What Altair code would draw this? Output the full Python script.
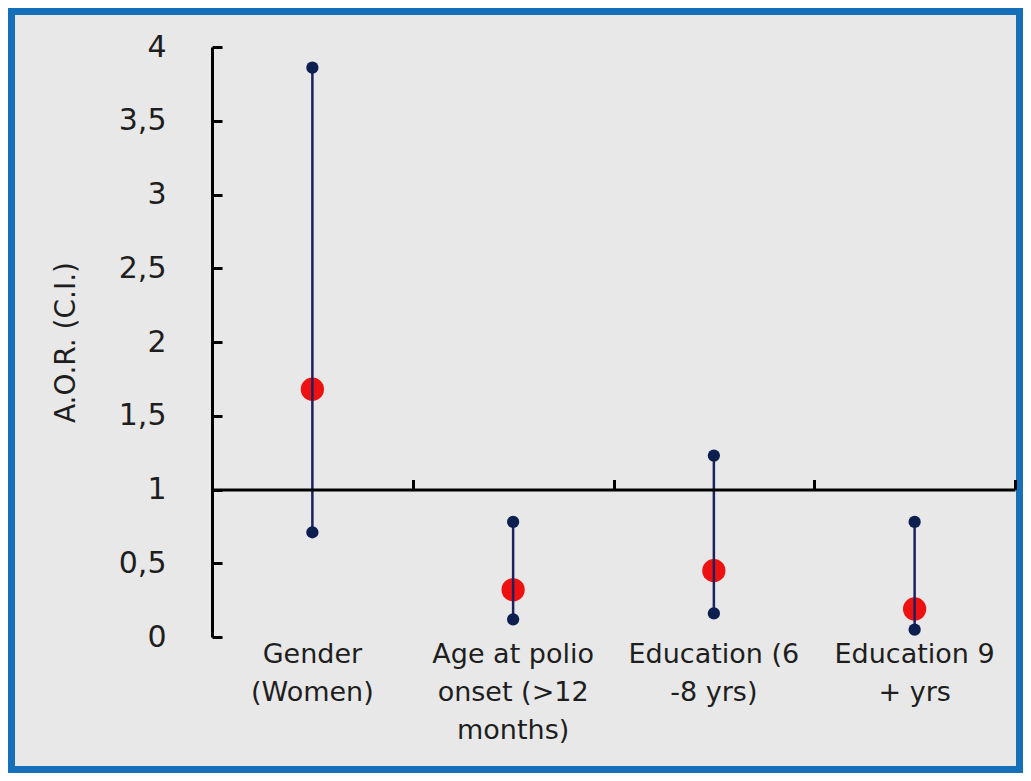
import altair as alt
import pandas as pd

categories = ["Gender\n(Women)", "Age at polio\nonset (>12\nmonths)", "Education (6\n-8 yrs)", "Education 9\n+ yrs"]
aor = [1.68, 0.32, 0.45, 0.19]
ci_low = [0.71, 0.12, 0.16, 0.05]
ci_high = [3.86, 0.78, 1.23, 0.78]
y_ticks = [0, 0.5, 1, 1.5, 2, 2.5, 3, 3.5, 4]

df = pd.DataFrame({"cat": categories, "aor": aor, "lo": ci_low, "hi": ci_high})

W, H = 803, 590
FONT = "DejaVu Sans"
TXT = "#1e1e1e"

xscale = alt.Scale(domain=categories, paddingInner=0, paddingOuter=0)
yscale = alt.Scale(domain=[0, 4], nice=False)

frame = alt.Chart(pd.DataFrame({"a": [0]})).mark_rect(
    fill="#e8e8e8", stroke="#1670b9", strokeWidth=7
).encode(
    x=alt.value(-200.5), x2=alt.value(807.5), y=alt.value(-35.5), y2=alt.value(722.5)
)

base = alt.Chart(df)

red = base.mark_point(filled=True, color="#ee1111", size=540, opacity=1).encode(
    x=alt.X("cat:N", scale=xscale, sort=categories, title=None,
            axis=alt.Axis(orient="bottom", domain=False, ticks=False, labelAngle=0,
                          labelExpr="split(datum.label, '\\n')",
                          labelFont=FONT, labelFontSize=27, labelColor=TXT,
                          labelLineHeight=38, labelPadding=4, labelBaseline="top",
                          zindex=2)),
    y=alt.Y("aor:Q", scale=yscale, title="A.O.R. (C.I.)",
            axis=alt.Axis(orient="left", values=y_ticks, ticks=False, grid=False,
                          domain=True, domainColor="black", domainWidth=3,
                          labelExpr="replace(toString(datum.value), '.', ',')",
                          labelFont=FONT, labelFontSize=30, labelColor=TXT, labelPadding=46,
                          titleFont=FONT, titleFontSize=28, titleFontWeight="normal",
                          titleColor=TXT, titlePadding=38, zindex=2)),
)

rule = base.mark_rule(color="#1c2260", strokeWidth=2.5).encode(
    x=alt.X("cat:N", scale=xscale, sort=categories, title=None,
            axis=alt.Axis(orient="top", offset=-442.5, labels=False, domain=True,
                          domainColor="black", domainWidth=3, ticks=True, tickSize=10,
                          tickWidth=3, tickColor="black", tickBand="extent", zindex=2)),
    y=alt.Y("lo:Q", scale=yscale, title=None,
            axis=alt.Axis(orient="right", offset=-W, values=y_ticks, labels=False,
                          domain=False, grid=False, ticks=True, tickSize=10, tickWidth=3,
                          tickColor="black", zindex=2)),
    y2="hi:Q",
)

dots_lo = base.mark_point(filled=True, color="#0d1f4f", size=150, opacity=1).encode(
    x=alt.X("cat:N", scale=xscale, sort=categories),
    y=alt.Y("lo:Q", scale=yscale),
)
dots_hi = base.mark_point(filled=True, color="#0d1f4f", size=150, opacity=1).encode(
    x=alt.X("cat:N", scale=xscale, sort=categories),
    y=alt.Y("hi:Q", scale=yscale),
)

chart = alt.layer(frame, red, rule, dots_lo, dots_hi).properties(
    width=W, height=H, background="black",
    autosize=alt.AutoSizeParams(type="none"),
    padding={"left": 204, "top": 39, "right": 8, "bottom": 136},
).configure_view(stroke=None)

chart.save("out.html", embed_options={"renderer": "svg", "actions": False})
